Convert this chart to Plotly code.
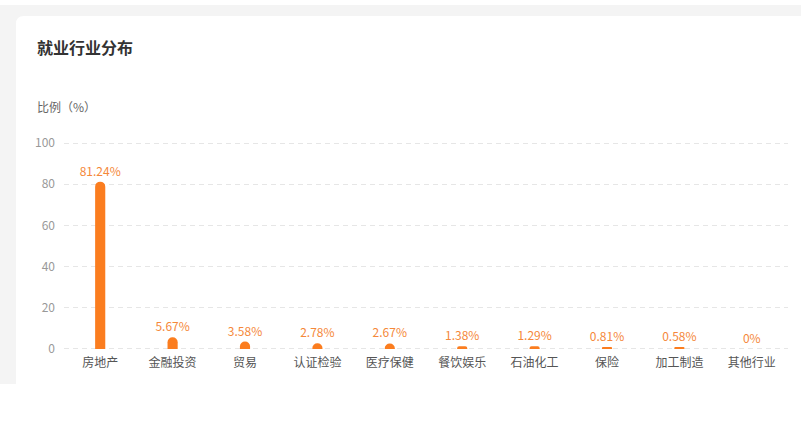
import plotly.graph_objects as go

categories = ["房地产", "金融投资", "贸易", "认证检验", "医疗保健", "餐饮娱乐", "石油化工", "保险", "加工制造", "其他行业"]
values = [81.24, 5.67, 3.58, 2.78, 2.67, 1.38, 1.29, 0.81, 0.58, 0]
labels = ["81.24%", "5.67%", "3.58%", "2.78%", "2.67%", "1.38%", "1.29%", "0.81%", "0.58%", "0%"]
y_ticks = [0, 20, 40, 60, 80, 100]

W, H = 801, 428
L, R, T, B = 64, 13, 142, 78
pw, ph = W - L - R, H - T - B

def px(x):
    return (x - L) / pw

def py(y):
    return (H - B - y) / ph

font = "Noto Sans CJK SC, Noto Sans, sans-serif"

fig = go.Figure()
fig.add_trace(go.Bar(
    x=categories, y=values, text=labels, textposition="outside",
    constraintext="none",
    textfont=dict(color="#f5883a", size=12, family=font),
    marker=dict(color="#fb7d1f", cornerradius="50%", line=dict(width=0)),
    width=0.14, cliponaxis=False, hoverinfo="skip",
))

# background: grey page strip + white card with rounded corner
x0, y0, x1, y1 = px(16), py(16), px(820), py(384)
r = 8
rx, ry = r / pw, r / ph
card_path = (f"M {x0},{y1} L {x0},{y0 - ry} Q {x0},{y0} {x0 + rx},{y0} "
             f"L {x1},{y0} L {x1},{y1} Z")
fig.add_shape(type="rect", xref="paper", yref="paper", x0=px(0), x1=px(820), y0=py(5), y1=py(384),
              fillcolor="#f4f4f4", line=dict(width=0), layer="below")
fig.add_shape(type="path", xref="paper", yref="paper", path=card_path,
              fillcolor="#ffffff", line=dict(width=0), layer="below")

fig.add_annotation(xref="paper", yref="paper", x=px(35), y=py(47), xanchor="left", yanchor="middle",
                   text="<b>就业行业分布</b>", showarrow=False,
                   font=dict(size=16, color="#333333", family=font))
fig.add_annotation(xref="paper", yref="paper", x=px(35), y=py(107), xanchor="left", yanchor="middle",
                   text="比例（%）", showarrow=False,
                   font=dict(size=12, color="#666666", family=font))

fig.update_layout(
    width=W, height=H,
    margin=dict(l=L, r=R, t=T, b=B, pad=0),
    paper_bgcolor="#ffffff", plot_bgcolor="rgba(0,0,0,0)",
    showlegend=False,
    xaxis=dict(showgrid=False, showline=False, zeroline=False, ticks="",
               ticklabelstandoff=4,
               tickfont=dict(size=12, color="#555555", family=font), fixedrange=True),
    yaxis=dict(range=[-0.5, 100.5], tickvals=y_ticks, showgrid=True, gridcolor="#e6e6e6",
               griddash="5px,4px", gridwidth=1, zeroline=False, showline=False, ticks="",
               ticklabelstandoff=8,
               tickfont=dict(size=12, color="#999999", family=font), fixedrange=True),
)

fig.write_html("out.html", config={"displayModeBar": False},
               post_script="document.body.style.margin='0';document.body.style.overflow='hidden';")
